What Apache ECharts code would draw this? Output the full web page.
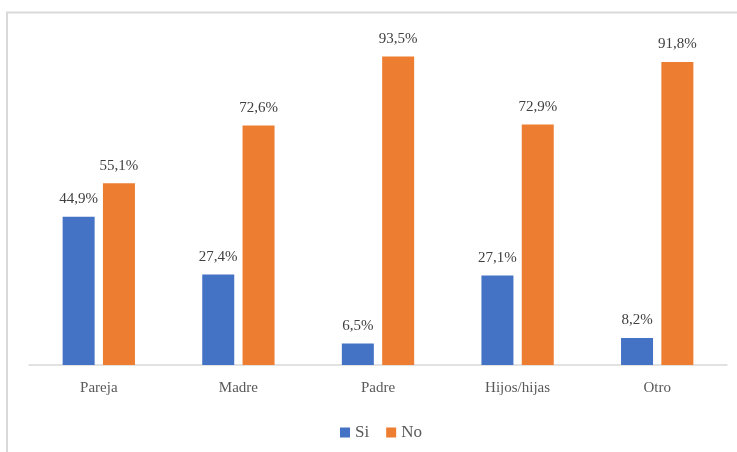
<!DOCTYPE html>
<html>
<head>
<meta charset="utf-8">
<script src="https://cdn.jsdelivr.net/npm/echarts@6/dist/echarts.min.js"></script>
<style>html,body{margin:0;padding:0;background:#fff;}#c{width:737px;height:452px;}</style>
</head>
<body>
<div id="c"></div>
<script>
const categories = ['Pareja', 'Madre', 'Padre', 'Hijos/hijas', 'Otro'];
const siValues = [44.9, 27.4, 6.5, 27.1, 8.2];
const noValues = [55.1, 72.6, 93.5, 72.9, 91.8];
const seriesNames = ['Si', 'No'];

const chart = echarts.init(document.getElementById('c'), null, {renderer: 'canvas'});
const fontFam = '"Liberation Serif", "Times New Roman", serif';
const labelCfg = {
  show: true, position: 'top', distance: 10,
  formatter: p => p.value.toFixed(1).replace('.', ',') + '%',
  fontFamily: fontFam, fontSize: 15, color: '#404040'
};
chart.setOption({
  animation: false,
  backgroundColor: '#fff',
  graphic: [{
    type: 'rect', shape: {x: 7, y: 12.5, width: 800, height: 500},
    style: {fill: 'none', stroke: '#d9d9d9', lineWidth: 2}, silent: true
  }],
  grid: {left: 29, right: 10, top: 35, bottom: 87, containLabel: false},
  legend: {
    data: seriesNames, bottom: 6, left: 335,
    itemWidth: 10, itemHeight: 10, itemGap: 17, icon: 'rect',
    textStyle: {fontFamily: fontFam, fontSize: 17, color: '#595959', padding: [0, 0, 0, 0]}
  },
  xAxis: {
    type: 'category', data: categories,
    axisLine: {lineStyle: {color: '#d9d9d9', width: 1.5}},
    axisTick: {show: false},
    axisLabel: {fontFamily: fontFam, fontSize: 15, color: '#595959', margin: 16}
  },
  yAxis: {
    type: 'value', min: 0, max: 100, show: false,
    splitLine: {show: false}
  },
  series: [
    {name: seriesNames[0], type: 'bar', data: siValues, barWidth: 32, barGap: '26%',
     itemStyle: {color: '#4472C4'}, label: labelCfg},
    {name: seriesNames[1], type: 'bar', data: noValues, barWidth: 32,
     itemStyle: {color: '#ED7D31'}, label: labelCfg}
  ]
});
</script>
</body>
</html>
